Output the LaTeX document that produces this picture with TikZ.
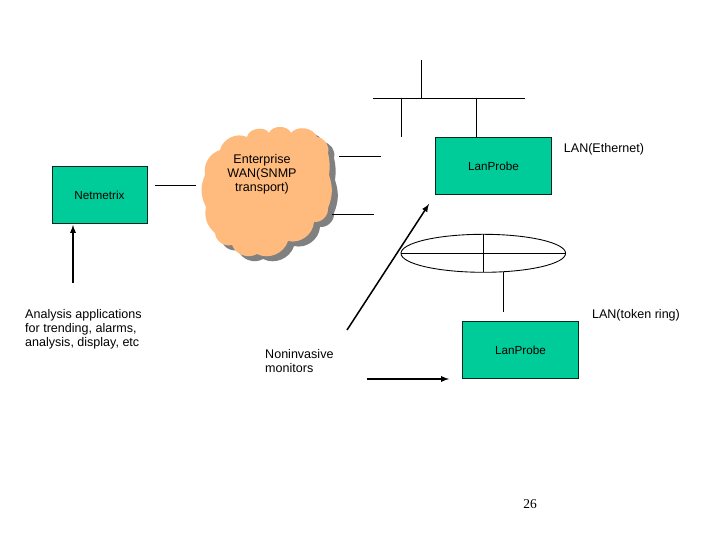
\documentclass[tikz,border=0pt]{standalone}
\usepackage{fontspec}
\setmainfont{Liberation Sans}
\newfontfamily\pagefont{Liberation Serif}
\usetikzlibrary{calc}
\definecolor{boxgreen}{RGB}{0,204,153}
\definecolor{cloudfill}{RGB}{255,187,125}
\tikzset{
	probebox/.style={draw=black!80!boxgreen,fill=boxgreen,line width=0.7pt,minimum width=3.46cm,minimum height=1.73cm,inner sep=0pt},
	txt/.style={inner sep=0pt,align=left,font=\fontsize{10.7}{12}\selectfont},
	wire/.style={line width=0.75pt},
	fatarrow/.style={-latex,line width=1.3pt}
}
\newcommand{\drawcloud}[1]{\fill[#1] (269,133) \foreach \px/\py/\bd in {291/133/70,317/137/60,328/153/50,329/175/10,328/208/20,314/222/50,288/241/50,257/254/50,232/245/50,215/233/50,206/207/30,205/175/25,220/150/40,247/137/50,269/133/70} {to[bend left=\bd] (\px,\py)} -- cycle;}
\begin{document}
\begin{tikzpicture}[x=0.03cm,y=-0.03cm]
	\useasboundingbox (0,0) rectangle (720,540);
	\drawcloud{gray,shift={(6,5)}} %shadow
	\drawcloud{cloudfill} %cloud
	\node[txt,align=center] (wan) at (262,174) {Enterprise\\WAN(SNMP\\transport)};

	\node[probebox,minimum width=2.85cm] (netmetrix) at (99.5,195) {\raisebox{-2pt}{Netmetrix}};
	\node[probebox] (probeA) at (493.5,166) {\raisebox{-2pt}{LanProbe}};
	\node[probebox] (probeB) at (520.5,350) {\raisebox{-1pt}{LanProbe}};

	\coordinate (busL) at (373,98);
	\coordinate (busR) at (525,98);
	\coordinate (upT) at (421,60);
	\coordinate (upB) at (421,98);
	\coordinate (stubT) at (401,98);
	\coordinate (stubB) at (401,137);
	\coordinate (dropT) at (476,98);
	\coordinate (dropB) at (476,137);
	\draw[wire] (busL) -- (busR); %Ethernet
	\draw[wire] (upT) -- (upB);
	\draw[wire] (stubT) -- (stubB);
	\draw[wire] (dropT) -- (dropB);

	\draw[wire] (483.3,253.3) ellipse (82.3 and 19); %token ring
	\coordinate (ringL) at (401,253);
	\coordinate (ringR) at (565.6,253);
	\coordinate (ringT) at (483.5,234.3);
	\coordinate (ringB) at (483.5,272.3);
	\coordinate (tailT) at (503,272.3);
	\coordinate (tailB) at (503,312);
	\draw[wire] (ringL) -- (ringR);
	\draw[wire] (ringT) -- (ringB);
	\draw[wire] (tailT) -- (tailB);

	\coordinate (netL) at (155,185);
	\coordinate (netR) at (196,185);
	\coordinate (wanA) at (339,156);
	\coordinate (wanB) at (381,156);
	\coordinate (wanC) at (332,214);
	\coordinate (wanD) at (374,214);
	\draw[wire] (netL) -- (netR);
	\draw[wire] (wanA) -- (wanB);
	\draw[wire] (wanC) -- (wanD);

	\coordinate (appsT) at (73,283);
	\coordinate (appsH) at (73,225);
	\coordinate (monA) at (347,330);
	\coordinate (monB) at (429,204);
	\coordinate (monC) at (367,379);
	\coordinate (monD) at (449,379);
	\draw[fatarrow] (appsT) -- (appsH);
	\draw[fatarrow] (monA) -- (monB);
	\draw[fatarrow] (monC) -- (monD);

	\node[txt,anchor=west] (apps) at (25,329) {Analysis applications\\for trending, alarms,\\analysis, display, etc};
	\node[txt,anchor=west] (mons) at (265,361) {Noninvasive\\monitors};
	\node[txt] (ether) at (604,149) {LAN(Ethernet)};
	\node[txt] (token) at (636,315) {LAN(token ring)};
	\node[inner sep=0pt,font=\pagefont\fontsize{11.5}{13}\selectfont] (page) at (530,504) {26};
\end{tikzpicture}
\end{document}
